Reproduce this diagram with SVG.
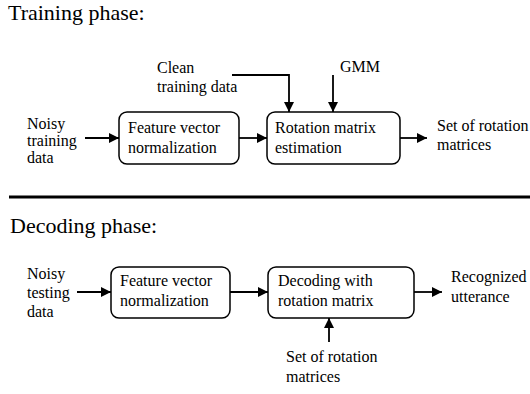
<svg xmlns="http://www.w3.org/2000/svg" width="530" height="394" viewBox="0 0 530 394">
<defs>
<marker id="ah" viewBox="0 0 10 10" refX="10" refY="5" markerWidth="10" markerHeight="10" markerUnits="userSpaceOnUse" orient="auto">
<path d="M0,0 L10,5 L0,10 z" fill="#000"/>
</marker>
</defs>
<rect width="530" height="394" fill="#fff"/>
<text x="8" y="20" font-size="22" font-family="Liberation Serif">Training phase:</text>
<text x="10" y="233" font-size="22" font-family="Liberation Serif">Decoding phase:</text>
<line x1="9" y1="197" x2="530" y2="197" stroke="#000" stroke-width="3"/>

<g id="connectors" stroke="#000" stroke-width="1.8" fill="none" marker-end="url(#ah)">
<path d="M232,75 H289 V112"/>
<path d="M333,75 V112"/>
<path d="M85,138 H119"/>
<path d="M239,138 H267"/>
<path d="M400,138 H427"/>
<path d="M77,292 H111"/>
<path d="M230,292 H268"/>
<path d="M414,292 H442"/>
<path d="M329,342 V318"/>
</g>

<g id="t-noisy"><text x="27" y="129" font-size="16" font-family="Liberation Serif">Noisy</text><text x="27" y="146" font-size="16" font-family="Liberation Serif">training</text><text x="27" y="163" font-size="16" font-family="Liberation Serif">data</text></g>
<g id="t-clean"><text x="157" y="73" font-size="16" font-family="Liberation Serif">Clean</text><text x="157" y="92" font-size="16" font-family="Liberation Serif">training data</text></g>
<g id="t-gmm"><text x="340" y="72" font-size="16" font-family="Liberation Serif">GMM</text></g>
<g id="t-fvn"><rect x="119" y="112" width="120" height="52" rx="8" fill="#fff" stroke="#000" stroke-width="1.5"/><text x="128" y="133" font-size="16" font-family="Liberation Serif">Feature vector</text><text x="128" y="153" font-size="16" font-family="Liberation Serif">normalization</text></g>
<g id="t-rme"><rect x="267" y="112" width="133" height="52" rx="8" fill="#fff" stroke="#000" stroke-width="1.5"/><text x="275" y="133" font-size="16" font-family="Liberation Serif">Rotation matrix</text><text x="275" y="153" font-size="16" font-family="Liberation Serif">estimation</text></g>
<g id="t-set"><text x="437" y="131" font-size="16" font-family="Liberation Serif">Set of rotation</text><text x="437" y="150" font-size="16" font-family="Liberation Serif">matrices</text></g>

<g id="d-noisy"><text x="27" y="279" font-size="16" font-family="Liberation Serif">Noisy</text><text x="27" y="298" font-size="16" font-family="Liberation Serif">testing</text><text x="27" y="317" font-size="16" font-family="Liberation Serif">data</text></g>
<g id="d-fvn"><rect x="111" y="267" width="119" height="51" rx="8" fill="#fff" stroke="#000" stroke-width="1.5"/><text x="120" y="286" font-size="16" font-family="Liberation Serif">Feature vector</text><text x="120" y="306" font-size="16" font-family="Liberation Serif">normalization</text></g>
<g id="d-dec"><rect x="268" y="267" width="146" height="51" rx="8" fill="#fff" stroke="#000" stroke-width="1.5"/><text x="278" y="286" font-size="16" font-family="Liberation Serif">Decoding with</text><text x="278" y="306" font-size="16" font-family="Liberation Serif">rotation matrix</text></g>
<g id="d-rec"><text x="451" y="282" font-size="16" font-family="Liberation Serif">Recognized</text><text x="451" y="302" font-size="16" font-family="Liberation Serif">utterance</text></g>
<g id="d-set"><text x="286" y="362" font-size="16" font-family="Liberation Serif">Set of rotation</text><text x="286" y="382" font-size="16" font-family="Liberation Serif">matrices</text></g>
</svg>
